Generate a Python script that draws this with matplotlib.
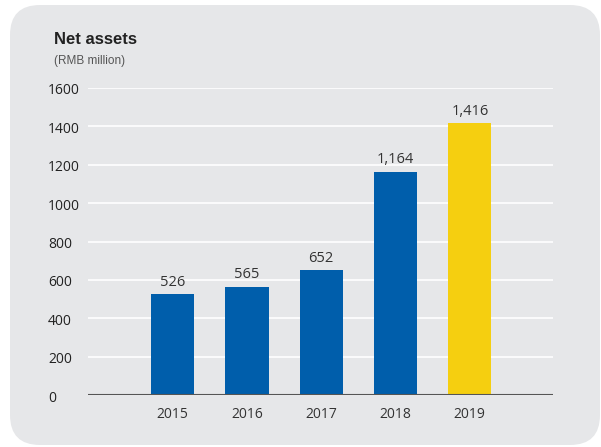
import matplotlib
matplotlib.use('Agg')
import matplotlib.pyplot as plt
from matplotlib.patches import FancyBboxPatch

years = ['2015', '2016', '2017', '2018', '2019']
net_assets = [526, 565, 652, 1164, 1416]
bar_colors = ['#005eab', '#005eab', '#005eab', '#005eab', '#f5cf10']
y_ticks = [0, 200, 400, 600, 800, 1000, 1200, 1400, 1600]

W, H = 601, 447
fig = plt.figure(figsize=(W / 100, H / 100), dpi=100)
fig.patch.set_facecolor('white')

# rounded grey panel behind everything
panel = FancyBboxPatch((10 / W, 2 / H), 590 / W, 440 / H,
                       boxstyle='round,pad=0,rounding_size=0.05',
                       transform=fig.transFigure, facecolor='#e6e7e9',
                       edgecolor='none', zorder=-10, mutation_aspect=W / H)
fig.patches.append(panel)

# axes box: x from 88 to 553 px, y from 0-line (395) to 1600-line (88)
ax = fig.add_axes([88 / W, (H - 395) / H, (553 - 88) / W, (395 - 88) / H])
ax.set_facecolor('none')

x = list(range(len(years)))
ax.bar(x, net_assets, width=0.58, color=bar_colors, zorder=3)
for xi, v in zip(x, net_assets):
    ax.text(xi, v + 22, f'{v:,}', ha='center', va='bottom',
            fontsize=10.5, color='#333333', family='Open Sans', zorder=4)

ax.set_xlim(-1.14, 5.12)
ax.set_ylim(0, 1600)
ax.set_yticks(y_ticks)
ax.set_yticklabels([])
ax.set_xticks(x)
ax.set_xticklabels(years, fontsize=10, color='#333333', family='Open Sans')
ax.tick_params(axis='both', length=0)
ax.tick_params(axis='x', pad=9)

for t in y_ticks[1:]:
    ax.axhline(t, color='white', lw=1.2, zorder=1)
ax.axhline(0, color='#555555', lw=1.5, zorder=4)

# y labels left-aligned at a fixed pixel column, sitting just below each line
for t in y_ticks:
    ax.text(48 / W, (H - 395 + t / 1600 * (395 - 88) - 3) / H, str(t),
            transform=fig.transFigure, ha='left', va='center',
            fontsize=10, color='#222222', family='Open Sans')

for s in ax.spines.values():
    s.set_visible(False)

fig.text(54 / W, 1 - 40 / H, 'Net assets', fontsize=12, fontweight='bold',
         family='Liberation Sans', color='#222222', va='center', ha='left')
fig.text(54 / W, 1 - 61 / H, '(RMB million)', fontsize=8.5,
         family='Liberation Sans', color='#555555', va='center', ha='left')

fig.savefig('out.png', dpi=100)
